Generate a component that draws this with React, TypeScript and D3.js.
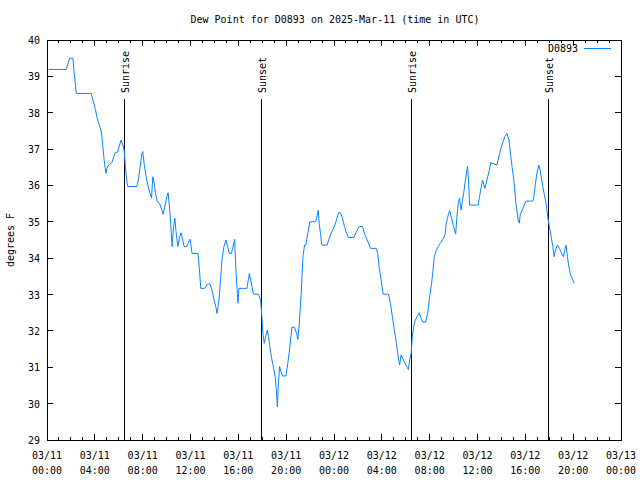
import React from "react";
import * as d3 from "d3";

// Hours since 2025-03-11 00:00 UTC and dew point (°F)
const hours: number[] = [
  0.14, 1.61, 1.89, 2.17, 2.28, 2.45, 3.70, 3.84, 4.03, 4.17, 4.37, 4.51, 4.59, 4.67, 4.78, 4.93,
  5.01, 5.15, 5.43, 5.57, 5.70, 5.90, 6.07, 6.20, 6.34, 6.45, 6.57, 6.68, 6.76, 7.51, 7.66, 7.79,
  7.93, 8.01, 8.12, 8.26, 8.43, 8.62, 8.74, 8.85, 8.96, 9.07, 9.24, 9.41, 9.60, 9.71, 9.88, 10.02,
  10.13, 10.29, 10.35, 10.46, 10.58, 10.69, 10.79, 10.94, 11.08, 11.21, 11.35, 11.46, 11.69, 11.79,
  11.96, 12.13, 12.63, 12.75, 12.86, 13.19, 13.42, 13.63, 13.80, 13.97, 14.11, 14.22, 14.38, 14.53,
  14.63, 14.80, 14.97, 15.13, 15.25, 15.42, 15.59, 15.69, 15.80, 15.92, 15.97, 16.05, 16.72, 16.84,
  16.92, 17.03, 17.14, 17.26, 17.70, 17.86, 17.97, 18.06, 18.17, 18.28, 18.42, 18.53, 18.64, 18.76,
  18.87, 18.98, 19.09, 19.18, 19.26, 19.34, 19.45, 19.56, 19.70, 19.98, 20.14, 20.31, 20.48, 20.70,
  20.87, 20.98, 21.10, 21.26, 21.40, 21.54, 21.65, 21.81, 21.98, 22.46, 22.60, 22.68, 22.76, 22.87,
  22.98, 23.43, 23.60, 23.82, 24.04, 24.21, 24.38, 24.54, 24.71, 24.88, 25.05, 25.21, 25.65, 25.88,
  26.10, 26.38, 26.55, 26.77, 27.05, 27.52, 27.66, 27.77, 27.94, 28.11, 28.55, 28.72, 28.88, 29.05,
  29.22, 29.33, 29.44, 29.49, 29.61, 29.78, 29.94, 30.11, 30.22, 30.33, 30.45, 30.55, 30.66, 30.78,
  30.95, 31.11, 31.28, 31.45, 31.66, 31.83, 32.00, 32.16, 32.28, 32.39, 32.56, 32.72, 32.89, 33.12,
  33.28, 33.39, 33.56, 33.67, 33.83, 34.00, 34.17, 34.28, 34.39, 34.50, 34.62, 34.73, 34.84, 34.95,
  35.06, 35.17, 35.25, 35.34, 36.06, 36.17, 36.29, 36.42, 36.62, 36.79, 36.96, 37.12, 37.40, 37.62,
  37.79, 37.96, 38.13, 38.29, 38.46, 38.63, 38.79, 38.96, 39.07, 39.18, 39.29, 39.40, 39.49, 39.57,
  39.74, 39.90, 40.07, 40.63, 40.74, 40.85, 40.96, 41.13, 41.24, 41.35, 41.46, 41.57, 41.74, 41.85,
  41.96, 42.07, 42.18, 42.30, 42.41, 42.52, 42.69, 42.85, 43.02, 43.19, 43.30, 43.41, 43.52, 43.64,
  43.74, 43.85, 43.97, 44.08,
];
const dewPoint: number[] = [
  39.19, 39.19, 39.5, 39.5, 39.08, 38.53, 38.53, 38.35, 38.12, 37.89, 37.66, 37.52, 37.34, 37.07, 36.70, 36.33,
  36.47, 36.56, 36.63, 36.77, 36.90, 36.92, 37.11, 37.25, 37.11, 36.97, 36.47, 36.10, 35.97, 35.97, 36.20, 36.52,
  36.88, 36.93, 36.61, 36.29, 36.01, 35.78, 35.65, 36.24, 36.06, 35.78, 35.55, 35.51, 35.33, 35.21, 35.46, 35.69,
  35.80, 35.23, 34.91, 34.32, 34.86, 35.10, 34.73, 34.32, 34.55, 34.70, 34.50, 34.32, 34.32, 34.41,
  34.52, 34.13, 34.13, 33.67, 33.17, 33.17, 33.29, 33.29, 33.12, 32.85, 32.67, 32.48, 32.85, 33.49,
  33.95, 34.33, 34.50, 34.27, 34.13, 34.13, 34.36, 34.52, 33.67, 33.03, 32.76, 33.17, 33.17, 33.42,
  33.58, 33.40, 33.22, 33.01, 33.01, 32.85, 32.39, 31.93, 31.66, 31.84, 32.02, 31.84, 31.56, 31.29,
  31.11, 30.92, 30.70, 30.37, 29.91, 30.47, 31.02, 30.88, 30.76, 30.76, 31.11, 31.56, 32.10, 32.10,
  31.93, 31.77, 32.21, 33.03, 34.04, 34.36, 34.36, 34.68, 35.00, 35.00, 35.19, 35.32, 34.96, 34.68,
  34.36, 34.36, 34.55, 34.73, 34.88, 35.05, 35.25, 35.25, 35.10, 34.87, 34.68, 34.57, 34.57, 34.73,
  34.87, 34.87, 34.68, 34.50, 34.27, 34.27, 34.13, 33.77, 33.40, 33.01, 33.01, 32.76, 32.39, 32.02,
  31.66, 31.38, 31.15, 31.06, 31.34, 31.22, 31.11, 31.00, 30.94, 31.20, 31.38, 31.84, 32.12, 32.28,
  32.39, 32.50, 32.35, 32.24, 32.24, 32.48, 32.94, 33.31, 33.67, 34.04, 34.22, 34.32, 34.41, 34.52,
  34.64, 34.96, 35.19, 35.31, 35.10, 34.87, 34.66, 35.14, 35.51, 35.65, 35.32, 35.55, 35.78, 36.06,
  36.29, 36.52, 36.15, 35.46, 35.46, 35.69, 35.92, 36.15, 35.92, 36.15, 36.38, 36.63, 36.59, 36.56,
  36.79, 37.02, 37.20, 37.34, 37.43, 37.25, 36.79, 36.33, 36.06, 35.60, 35.32, 35.05, 34.96, 35.19,
  35.32, 35.46, 35.57, 35.57, 35.74, 36.06, 36.33, 36.56, 36.42, 36.20, 35.97, 35.78, 35.51, 35.19,
  34.96, 34.77, 34.55, 34.32, 34.04, 34.22, 34.36, 34.27, 34.15, 34.04, 34.22, 34.36, 34.04, 33.77,
  33.60, 33.49, 33.40, 33.31,
];

const sunEventHours: number[] = [6.45, 17.89, 30.41, 41.93];
const sunEventLabels: string[] = ["Sunrise", "Sunset", "Sunrise", "Sunset"];

const yTicks: number[] = [29, 30, 31, 32, 33, 34, 35, 36, 37, 38, 39, 40];
const title = "Dew Point for D0893 on 2025-Mar-11 (time in UTC)";
const yLabel = "degrees F";
const seriesName = "D0893";

const W = 640, H = 480;
const M = { left: 47, right: 621, top: 40, bottom: 440 };
const FONT = "'DejaVu Sans Mono', monospace";
const LINE_COLOR = "#0a84ff";

const start = Date.UTC(2025, 2, 11);
const toDate = (h: number) => new Date(start + h * 3600 * 1000);

export default function App() {
  const x = d3.scaleUtc().domain([toDate(0), toDate(48)]).range([M.left, M.right]);
  const y = d3.scaleLinear().domain([29, 40]).range([M.bottom, M.top]);

  const data = hours.map((h, i) => ({ t: toDate(h), v: dewPoint[i] }));
  const line = d3.line<{ t: Date; v: number }>().x(d => x(d.t)).y(d => y(d.v));

  const majorTicks = d3.utcHour.every(4)!.range(toDate(0), toDate(48.01));
  const minorTicks = d3.utcHour.every(1)!.range(toDate(0), toDate(48.01));
  const fmtDate = d3.utcFormat("%m/%d");
  const fmtTime = d3.utcFormat("%H:%M");

  const majLen = 6, minLen = 3;

  return (
    <svg width={W} height={H} style={{ position: "absolute", left: 0, top: 0, background: "#fff" }}
      fontFamily={FONT} fontSize={10}>
      <rect x={0} y={0} width={W} height={H} fill="#fff" />
      <g shapeRendering="crispEdges" stroke="#000" strokeWidth={1}>
        {minorTicks.map((t, i) => (
          <g key={"mt" + i}>
            <line x1={x(t)} x2={x(t)} y1={M.bottom} y2={M.bottom - minLen} />
            <line x1={x(t)} x2={x(t)} y1={M.top} y2={M.top + minLen} />
          </g>
        ))}
        {majorTicks.map((t, i) => (
          <g key={"Mt" + i}>
            <line x1={x(t)} x2={x(t)} y1={M.bottom} y2={M.bottom - majLen} />
            <line x1={x(t)} x2={x(t)} y1={M.top} y2={M.top + majLen} />
          </g>
        ))}
        {yTicks.map(v => (
          <g key={"yt" + v}>
            <line x1={M.left} x2={M.left + majLen} y1={y(v)} y2={y(v)} />
            <line x1={M.right} x2={M.right - majLen} y1={y(v)} y2={y(v)} />
          </g>
        ))}
        <rect x={M.left} y={M.top} width={M.right - M.left} height={M.bottom - M.top} fill="none" />
      </g>
      {yTicks.map(v => (
        <text key={"yl" + v} x={M.left - 7} y={y(v) + 4} textAnchor="end" fill="#000">{v}</text>
      ))}
      {majorTicks.map((t, i) => (
        <text key={"xl" + i} x={x(t)} y={M.bottom + 19} textAnchor="middle" fill="#000">
          <tspan x={x(t)}>{fmtDate(t)}</tspan>
          <tspan x={x(t)} dy={15}>{fmtTime(t)}</tspan>
        </text>
      ))}
      <text x={(M.left + M.right) / 2 + 1} y={23} textAnchor="middle" fill="#000">{title}</text>
      <text transform={`translate(14,${(M.top + M.bottom) / 2}) rotate(-90)`} textAnchor="middle" fill="#000">{yLabel}</text>

      {sunEventHours.map((h, i) => {
        const xx = Math.round(x(toDate(h))) + 0.5;
        return (
          <g key={"sun" + i}>
            <line x1={xx} x2={xx} y1={99} y2={M.bottom} stroke="#000" strokeWidth={1} />
            <text transform={`translate(${xx + 4},93) rotate(-90)`} textAnchor="start" fill="#000">{sunEventLabels[i]}</text>
          </g>
        );
      })}

      <path d={line(data) || ""} fill="none" stroke={LINE_COLOR} strokeWidth={1} />

      <text x={578} y={52} textAnchor="end" fill="#000">{seriesName}</text>
      <line x1={584} x2={611} y1={48.5} y2={48.5} stroke={LINE_COLOR} strokeWidth={1} />
    </svg>
  );
}
